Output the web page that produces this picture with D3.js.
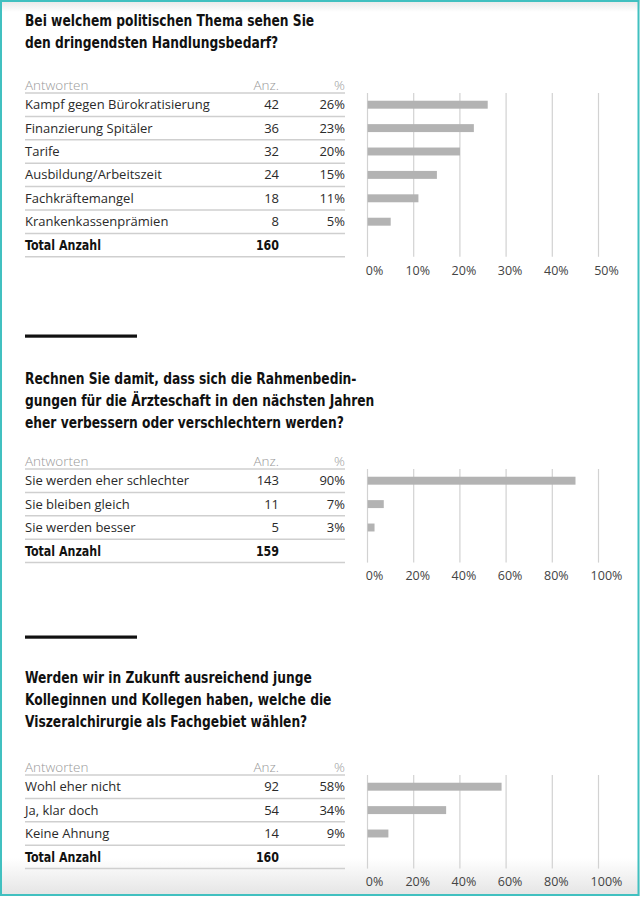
<!doctype html>
<html>
  <head>
    <meta charset="utf-8">
    <title>Umfrage Viszeralchirurgie</title>
    <script src="https://cdnjs.cloudflare.com/ajax/libs/d3/7.8.5/d3.min.js"></script>
    <style>
      html, body { margin: 0; padding: 0; background: #fff; }
      svg { display: block; }
      .title { font-family: "DejaVu Sans Condensed", "Roboto", sans-serif; font-weight: bold; font-size: 15.5px; fill: #111; }
      .cell { font-family: "Open Sans", sans-serif; font-size: 13px; fill: #2a2a2a; }
      .head { font-family: "Open Sans", sans-serif; font-size: 13.5px; fill: #999; font-weight: 300; }
      .total { font-family: "DejaVu Sans Condensed", sans-serif; font-weight: bold; font-size: 14px; fill: #111; }
      .tick text { font-family: "Open Sans", sans-serif; font-size: 12.5px; fill: #444; }
    </style>
  </head>
  <body>
    <div id="chart"></div>
    <script>
      // data
      const q1Title = ["Bei welchem politischen Thema sehen Sie", "den dringendsten Handlungsbedarf?"];
      const q1Answers = ["Kampf gegen Bürokratisierung", "Finanzierung Spitäler", "Tarife",
                         "Ausbildung/Arbeitszeit", "Fachkräftemangel", "Krankenkassenprämien"];
      const q1Counts = [42, 36, 32, 24, 18, 8];
      const q1Pct = [26, 23, 20, 15, 11, 5];
      const q1Total = 160;
      const q1Ticks = [0, 10, 20, 30, 40, 50];

      const q2Title = ["Rechnen Sie damit, dass sich die Rahmenbedin-",
                       "gungen für die Ärzteschaft in den nächsten Jahren",
                       "eher verbessern oder verschlechtern werden?"];
      const q2Answers = ["Sie werden eher schlechter", "Sie bleiben gleich", "Sie werden besser"];
      const q2Counts = [143, 11, 5];
      const q2Pct = [90, 7, 3];
      const q2Total = 159;
      const q2Ticks = [0, 20, 40, 60, 80, 100];

      const q3Title = ["Werden wir in Zukunft ausreichend junge",
                       "Kolleginnen und Kollegen haben, welche die",
                       "Viszeralchirurgie als Fachgebiet wählen?"];
      const q3Answers = ["Wohl eher nicht", "Ja, klar doch", "Keine Ahnung"];
      const q3Counts = [92, 54, 14];
      const q3Pct = [58, 34, 9];
      const q3Total = 160;
      const q3Ticks = [0, 20, 40, 60, 80, 100];

      const W = 640, H = 897;
      const svg = d3.select('#chart').append('svg')
        .attr('width', W).attr('height', H);

      // soft shading at top and bottom edge
      const defs = svg.append('defs');
      const gTop = defs.append('linearGradient').attr('id', 'shTop').attr('x1', 0).attr('x2', 0).attr('y1', 0).attr('y2', 1);
      gTop.append('stop').attr('offset', 0).attr('stop-color', '#e6e6e6');
      gTop.append('stop').attr('offset', 1).attr('stop-color', '#fff');
      const gBot = defs.append('linearGradient').attr('id', 'shBot').attr('x1', 0).attr('x2', 0).attr('y1', 0).attr('y2', 1);
      gBot.append('stop').attr('offset', 0).attr('stop-color', '#fff');
      gBot.append('stop').attr('offset', 1).attr('stop-color', '#e4e4e4');
      svg.append('rect').attr('x', 0).attr('y', 0).attr('width', W).attr('height', 12).attr('fill', 'url(#shTop)');
      svg.append('rect').attr('x', 0).attr('y', 858).attr('width', W).attr('height', 38).attr('fill', 'url(#shBot)');

      const left = 25, colAnz = 279, colPct = 345, step = 23.4;
      const squeeze = 0.88; // the original headline face is narrower

      function drawSection(s) {
        const g = svg.append('g');

        if (s.divider != null) {
          g.append('rect').attr('x', left).attr('y', s.divider - 1.5)
            .attr('width', 112).attr('height', 3.2).attr('fill', '#111');
        }

        g.append('g').attr('transform', `translate(${left},0) scale(${squeeze},1)`)
          .selectAll('text').data(s.title).join('text')
          .attr('class', 'title')
          .attr('x', 0)
          .attr('y', (d, i) => s.titleY + i * 22)
          .attr('dy', '0.35em')
          .text(d => d);

        const lineTop = s.headY + 8;
        const n = s.answers.length;
        const lines = d3.range(n + 2).map(i => lineTop + i * step);

        // table
        g.append('text').attr('class', 'head').attr('x', left).attr('y', s.headY).attr('dy', '0.35em').text('Antworten');
        g.append('text').attr('class', 'head').attr('x', colAnz).attr('y', s.headY).attr('dy', '0.35em').attr('text-anchor', 'end').text('Anz.');
        g.append('text').attr('class', 'head').attr('x', colPct).attr('y', s.headY).attr('dy', '0.35em').attr('text-anchor', 'end').text('%');

        g.selectAll('line.sep').data(lines).join('line')
          .attr('x1', left).attr('x2', colPct)
          .attr('y1', d => d).attr('y2', d => d)
          .attr('stroke', '#cfcfcf').attr('stroke-width', 1.5);

        const y = d3.scaleBand().domain(s.answers).range([lineTop, lineTop + n * step])
          .paddingInner(0.66).paddingOuter(0.33);
        const rowY = d => y(d) + y.bandwidth() / 2;

        const rows = g.selectAll('g.row').data(s.answers).join('g');
        rows.append('text').attr('class', 'cell').attr('x', left).attr('y', rowY).attr('dy', '0.35em').text(d => d);
        rows.append('text').attr('class', 'cell').attr('x', colAnz).attr('y', rowY).attr('dy', '0.35em')
          .attr('text-anchor', 'end').text((d, i) => s.counts[i]);
        rows.append('text').attr('class', 'cell').attr('x', colPct).attr('y', rowY).attr('dy', '0.35em')
          .attr('text-anchor', 'end').text((d, i) => s.pct[i] + '%');

        const totY = lines[n] + step / 2;
        const tot = g.append('g').attr('transform', `translate(0,${totY})`);
        tot.append('text').attr('class', 'total').attr('transform', `translate(${left},0) scale(${squeeze},1)`)
          .attr('dy', '0.35em').text('Total Anzahl');
        tot.append('text').attr('class', 'total').attr('transform', `translate(${colAnz},0) scale(${squeeze},1)`)
          .attr('dy', '0.35em').attr('text-anchor', 'end').text(s.total);

        // bar chart
        const x = d3.scaleLinear().domain([0, d3.max(s.ticks)]).range([367, 598]);
        const gridBottom = lines[n + 1];

        const axis = g.append('g').attr('transform', `translate(0,${gridBottom})`)
          .call(d3.axisBottom(x).tickValues(s.ticks).tickFormat(d => d + '%').tickSize(-(gridBottom - lineTop)).tickPadding(9));
        axis.select('.domain').remove();
        axis.selectAll('.tick line').attr('stroke', '#d2d2d2').attr('stroke-width', 1.2);
        axis.selectAll('.tick text').attr('dx', (d, i) => i === 0 ? 7 : (i === s.ticks.length - 1 ? 8 : 4));

        g.selectAll('rect.bar').data(s.answers).join('rect')
          .attr('x', x(0) + 0.6)
          .attr('y', d => y(d))
          .attr('width', (d, i) => x(s.pct[i]) - x(0))
          .attr('height', y.bandwidth())
          .attr('fill', '#b3b3b3');
      }

      drawSection({ title: q1Title, titleY: 21, headY: 85, answers: q1Answers, counts: q1Counts,
                    pct: q1Pct, total: q1Total, ticks: q1Ticks, divider: null });
      drawSection({ title: q2Title, titleY: 379, headY: 461, answers: q2Answers, counts: q2Counts,
                    pct: q2Pct, total: q2Total, ticks: q2Ticks, divider: 336 });
      drawSection({ title: q3Title, titleY: 678, headY: 767, answers: q3Answers, counts: q3Counts,
                    pct: q3Pct, total: q3Total, ticks: q3Ticks, divider: 637 });

      // teal frame
      svg.append('rect').attr('x', 1).attr('y', 1).attr('width', W - 2.5).attr('height', H - 3)
        .attr('fill', 'none').attr('stroke', '#41c0c0').attr('stroke-width', 2);
    </script>
  </body>
</html>
